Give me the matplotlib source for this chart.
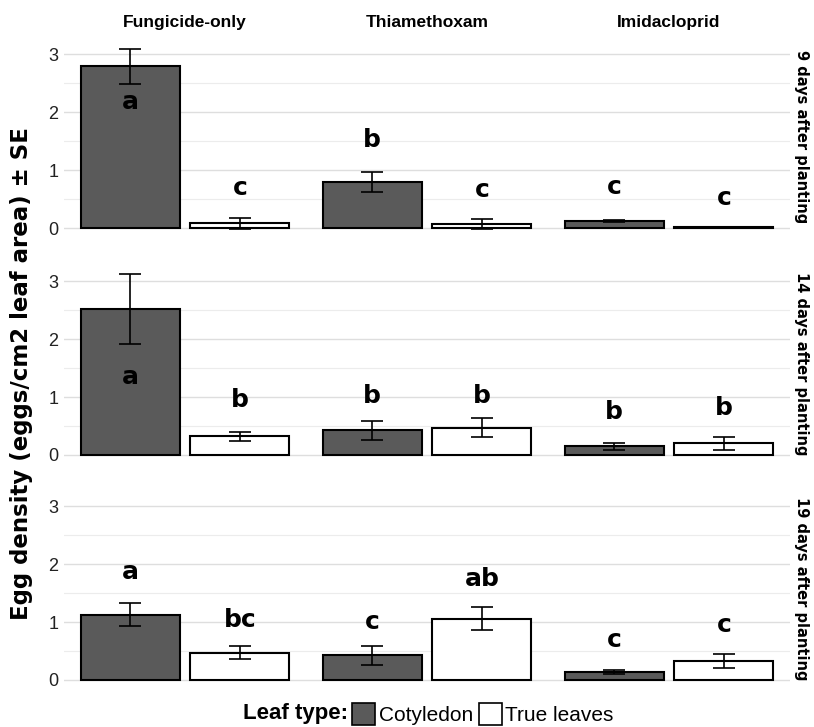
import matplotlib
matplotlib.use("Agg")
import matplotlib.pyplot as plt
from matplotlib.patches import Patch
import numpy as np

treatments = ["Fungicide-only", "Thiamethoxam", "Imidacloprid"]
days = ["9 days after planting", "14 days after planting", "19 days after planting"]
leaf_types = ["Cotyledon", "True leaves"]

# means [day][treatment]
cot_mean = [[2.79, 0.80, 0.12],
            [2.52, 0.43, 0.15],
            [1.13, 0.43, 0.14]]
cot_se = [[0.30, 0.17, 0.02],
          [0.61, 0.165, 0.06],
          [0.20, 0.165, 0.04]]
true_mean = [[0.08, 0.07, 0.01],
             [0.32, 0.47, 0.20],
             [0.47, 1.06, 0.33]]
true_se = [[0.09, 0.08, 0.01],
           [0.08, 0.16, 0.115],
           [0.11, 0.20, 0.125]]

cot_letters = [["a", "b", "c"], ["a", "b", "b"], ["a", "c", "c"]]
true_letters = [["c", "c", "c"], ["b", "b", "b"], ["bc", "ab", "c"]]
cot_letter_y = [[2.17, 1.52, 0.70], [1.34, 1.02, 0.74], [1.86, 1.00, 0.69]]
true_letter_y = [[0.69, 0.66, 0.52], [0.95, 1.02, 0.81], [1.03, 1.74, 0.95]]

yticks = [0, 1, 2, 3]

COT = "#5a5a5a"
NARROW = ["Liberation Sans Narrow", "Liberation Sans", "DejaVu Sans"]
DEJA = ["DejaVu Sans"]

fig = plt.figure(figsize=(8.14, 7.27), dpi=100)
left, width = 0.0786, 0.892
bottoms = [0.6744, 0.3622, 0.0527]
height = 0.275

off, bw = 0.227, 0.409
x = np.arange(len(treatments))

for r in range(3):
    ax = fig.add_axes([left, bottoms[r], width, height])
    ax.set_xlim(-0.5, 2.5)
    ax.set_ylim(-0.15, 3.3)
    ax.set_yticks(yticks)
    ax.set_yticks([0.5, 1.5, 2.5], minor=True)
    ax.grid(True, axis="y", which="major", color="#dedede", lw=1.0)
    ax.grid(True, axis="y", which="minor", color="#ececec", lw=0.8)
    ax.set_axisbelow(True)
    for s in ax.spines.values():
        s.set_visible(False)
    ax.tick_params(axis="both", which="both", length=0)
    ax.set_xticks([])
    ax.tick_params(axis="y", pad=4, labelsize=13, labelcolor="#222222")
    for lab in ax.get_yticklabels():
        lab.set_family(NARROW)

    ax.bar(x - off, cot_mean[r], width=bw, color=COT, edgecolor="black", linewidth=1.5, zorder=2)
    ax.bar(x + off, true_mean[r], width=bw, color="white", edgecolor="black", linewidth=1.5, zorder=2)
    ax.errorbar(x - off, cot_mean[r], yerr=cot_se[r], fmt="none", ecolor="black",
                elinewidth=1.2, capsize=8, capthick=1.2, zorder=3)
    ax.errorbar(x + off, true_mean[r], yerr=true_se[r], fmt="none", ecolor="black",
                elinewidth=1.2, capsize=8, capthick=1.2, zorder=3)

    for i in range(3):
        ax.text(x[i] - off, cot_letter_y[r][i], cot_letters[r][i], ha="center", va="center",
                fontsize=18, fontweight="bold", family=DEJA, zorder=4)
        ax.text(x[i] + off, true_letter_y[r][i], true_letters[r][i], ha="center", va="center",
                fontsize=18, fontweight="bold", family=DEJA, zorder=4)

    ax.text(1.006, 0.5, days[r], transform=ax.transAxes, rotation=-90, ha="left", va="center",
            fontsize=10.5, fontweight="bold", family=DEJA)

    if r == 0:
        for i, t in enumerate(treatments):
            ax.text(x[i], 1.035, t, transform=ax.get_xaxis_transform(), ha="center", va="bottom",
                    fontsize=12.5, fontweight="bold", family=NARROW)

fig.text(0.027, 0.486, "Egg density (eggs/cm2 leaf area) ± SE", rotation=90, ha="center", va="center",
         fontsize=16.5, fontweight="bold", family=DEJA)

handles = [Patch(facecolor=COT, edgecolor="black", linewidth=1.2, label=leaf_types[0]),
           Patch(facecolor="white", edgecolor="black", linewidth=1.2, label=leaf_types[1])]
leg = fig.legend(handles=handles, loc="center left", bbox_to_anchor=(0.433, 0.018), ncol=2, frameon=False,
                 prop={"family": NARROW, "size": 15}, handlelength=1.1, handleheight=1.3,
                 handletextpad=0.15, columnspacing=0.3, borderaxespad=0, borderpad=0)
fig.text(0.428, 0.018, "Leaf type:", ha="right", va="center", fontsize=16, fontweight="bold", family=NARROW)

fig.savefig("out.png", dpi=100)
